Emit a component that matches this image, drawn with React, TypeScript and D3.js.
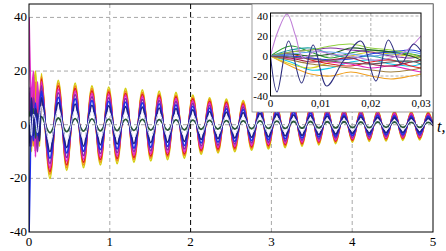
import React from 'react';
import * as d3 from 'd3';

// main plot: time of each extremum (s)
const mainTimes = [0, 0.012, 0.03, 0.055, 0.08, 0.105, 0.13,
    0.155, 0.259, 0.363, 0.467, 0.571, 0.675, 0.779, 0.883, 0.987, 1.091, 1.195, 1.299, 1.403, 1.507, 1.611, 1.715,
    1.819, 1.923, 2.027, 2.131, 2.235, 2.339, 2.443, 2.547, 2.651, 2.755, 2.859, 2.963, 3.067, 3.171, 3.275, 3.379,
    3.483, 3.587, 3.691, 3.795, 3.899, 4.003, 4.107, 4.211, 4.315, 4.419, 4.523, 4.627, 4.731, 4.835, 4.939, 5.0];

const yellowVals = [0, 6, -10, 12, 20, 4, -8,
    19, -20, 16.5, -17, 15.5, -16, 14.5, -15, 14, -14.5, 13.5, -14, 13, -13.5, 12.5, -13, 12, -12.5, 11, -11, 10, -10.5,
    9.5, -10, 9, -9.5, 8.5, -9, 8, -8.5, 7.5, -8, 7, -7.5, 6.5, -7, 6, -6.5, 5.8, -6.2, 5.5, -6, 5.2, -5.8, 5, -5.6, 4.8, -0.5];
const orangeVals = [0, -5, 14, -8, 16, -4, 6,
    18, -18.5, 15.5, -16, 14.5, -15, 13.5, -14, 13, -13.5, 12.5, -13, 12, -12.5, 11.5, -12, 11, -11.5, 10.3, -10.2, 9.4, -9.8,
    8.8, -9.3, 8.4, -8.8, 7.9, -8.4, 7.4, -7.9, 7, -7.4, 6.5, -7, 6, -6.5, 5.6, -6, 5.4, -5.8, 5.1, -5.6, 4.8, -5.4, 4.6, -5.2, 4.4, -0.4];
const redVals = [0, 10, -6, 18, -10, 12, -4,
    17, -17.5, 14.5, -15, 13.5, -14, 12.6, -13, 12.2, -12.6, 11.7, -12.2, 11.3, -11.7, 10.9, -11.3, 10.4, -10.9, 9.6, -9.6, 8.7, -9.1,
    8.3, -8.7, 7.8, -8.3, 7.4, -7.8, 7, -7.4, 6.5, -7, 6.1, -6.5, 5.7, -6.1, 5.2, -5.7, 5, -5.4, 4.8, -5.2, 4.5, -5, 4.3, -4.9, 4.2, -0.4];
const magentaVals = [40, 22, 8, 20, -12, 16, 2,
    16, -16, 13.2, -13.6, 12.4, -12.8, 11.6, -12, 11.2, -11.6, 10.8, -11.2, 10.4, -10.8, 10, -10.4, 9.6, -10, 8.8, -8.8, 8, -8.4,
    7.6, -8, 7.2, -7.6, 6.8, -7.2, 6.4, -6.8, 6, -6.4, 5.6, -6, 5.2, -5.6, 4.8, -5.2, 4.6, -5, 4.4, -4.8, 4.2, -4.6, 4, -4.5, 3.8, -0.3];
const purpleVals = [0, 14, -8, 10, 4, -10, 8,
    14.5, -14.5, 11.9, -12.2, 11.2, -11.5, 10.4, -10.8, 10, -10.4, 9.7, -10, 9.4, -9.7, 9, -9.4, 8.6, -9, 7.9, -7.9, 7.2, -7.6,
    6.8, -7.2, 6.5, -6.8, 6.1, -6.5, 5.8, -6.1, 5.4, -5.8, 5, -5.4, 4.7, -5, 4.3, -4.7, 4.2, -4.5, 4, -4.3, 3.7, -4.2, 3.6, -4, 3.5, -0.3];
const greenVals = [0, 5, -4, 6, -5, 4, -3,
    3, -3, 2.5, -2.6, 2.3, -2.4, 2.2, -2.3, 2.1, -2.2, 2, -2.1, 2, -2, 1.9, -2, 1.8, -1.9, 1.7, -1.7, 1.6, -1.6,
    1.5, -1.6, 1.4, -1.5, 1.4, -1.4, 1.3, -1.4, 1.2, -1.3, 1.2, -1.2, 1.1, -1.2, 1.1, -1.1, 1, -1.1, 1, -1, 1, -1, 0.9, -1, 0.9, 0];
const blueVals = [-40, -20, 6, -6, 8, -4, 4,
    12.5, -12.5, 10.2, -10.5, 9.6, -9.9, 9, -9.3, 8.7, -9, 8.4, -8.7, 8.1, -8.4, 7.8, -8.1, 7.4, -7.8, 6.8, -6.8, 6.2, -6.5,
    5.9, -6.2, 5.6, -5.9, 5.3, -5.6, 5, -5.3, 4.6, -5, 4.3, -4.6, 4, -4.3, 3.7, -4, 3.6, -3.8, 3.4, -3.7, 3.2, -3.6, 3.1, -3.5, 3, -0.2];
const navyVals = [0, -8, 10, -4, 6, 2, -6,
    10, -10, 8.2, -8.5, 7.7, -8, 7.2, -7.5, 7, -7.2, 6.7, -7, 6.5, -6.7, 6.2, -6.5, 6, -6.2, 5.5, -5.5, 5, -5.2,
    4.7, -5, 4.5, -4.7, 4.2, -4.5, 4, -4.2, 3.7, -4, 3.5, -3.7, 3.2, -3.5, 3, -3.2, 2.9, -3.1, 2.7, -3, 2.6, -2.9, 2.5, -2.8, 2.4, -0.2];
const whiteVals = [0, 3, -4, 4, 2, -3, 3,
    7, -7, 5.8, -6, 5.4, -5.6, 5, -5.2, 4.9, -5, 4.7, -4.9, 4.5, -4.7, 4.4, -4.5, 4.2, -4.4, 3.8, -3.8, 3.5, -3.7,
    3.3, -3.5, 3.1, -3.3, 3, -3.1, 2.8, -3, 2.6, -2.8, 2.4, -2.6, 2.3, -2.4, 2.1, -2.3, 2, -2.2, 1.9, -2.1, 1.8, -2, 1.8, -1.9, 1.7, -0.1];

const mainXTicks = [0, 1, 2, 3, 4, 5];
const mainYTicks = [-40, -20, 0, 20, 40];

// inset: first 0.03 s
const insetOscTimes = [0, 0.0013, 0.0036, 0.0062, 0.0085, 0.0112, 0.0145, 0.018, 0.021, 0.0235, 0.026, 0.0285, 0.03];
const insetNavyVals = [0, -36, 15, -27, 11, -30, -5, 15, -25, 16, -8, 12, 5];
const insetBigTimes = [0, 0.0015, 0.0033, 0.005, 0.0065, 0.009, 0.012, 0.016, 0.02, 0.024, 0.027, 0.03];
const insetLilacVals = [0, 25, 42, 20, -2, 5, 2, 0, -4, -2, 5, 20];
const insetTimes = [0, 0.004, 0.008, 0.012, 0.016, 0.02, 0.024, 0.028, 0.03];
const insetGreen = [0, 10, 4, -2, 3, 6, 4, 2, 0];
const insetTeal = [0, 6, 8, 2, -2, 0, -4, -6, -5];
const insetCyan = [0, -6, -14, -12, -6, -4, -8, -10, -8];
const insetOrange = [0, -10, -18, -20, -16, -20, -23, -20, -18];
const insetYellow = [0, -8, -12, -6, 0, 4, 2, 0, -2];
const insetRed = [0, 2, -4, -8, -10, -6, -4, -10, -12];
const insetMagenta = [0, -3, -2, -6, -8, -12, -10, -14, -16];
const insetPurple = [0, 4, 6, 8, 6, 4, 0, -2, 0];
const insetBlue = [0, 0, -2, -4, -3, 2, 4, 6, 4];
const insetDarkGreen = [0, 2, 0, 2, 8, 6, 4, 0, -4];
const insetLightGreen = [0, 4, 6, 10, 12, 8, 6, 2, -2];
const insetOlive = [0, -4, -8, -10, -12, -14, -16, -14, -12];
const insetDarkRed = [0, -2, -6, -4, -2, -8, -10, -6, -4];
const insetSky = [0, 2, 4, 4, 2, 0, 2, 4, 2];
const insetGray = [0, -1, -3, -5, -7, -8, -6, -5, -8];

const insetXTicks = [0, 0.01, 0.02, 0.03];
const insetXLabels = ['0', '0,01', '0,02', '0,03'];
const insetYTicks = [-40, -20, 0, 20, 40];

function App() {
    const W = 446, H = 251;
    const x = d3.scaleLinear().domain([0, 5]).range([29, 433]);
    const y = d3.scaleLinear().domain([-40, 45]).range([232, 4]);
    const ix = d3.scaleLinear().domain([0, 0.03]).range([270.5, 421]);
    const iy = d3.scaleLinear().domain([-40, 43]).range([96, 13]);

    const mainSeries = [
        { color: '#d4cf10', values: yellowVals },
        { color: '#f09018', values: orangeVals },
        { color: '#e0202a', values: redVals },
        { color: '#e02cc8', values: magentaVals },
        { color: '#8a2aa8', values: purpleVals },
        { color: '#2a5a3a', values: greenVals },
        { color: '#2030e8', values: blueVals },
        { color: '#20208a', values: navyVals },
        { color: '#eeeeff', values: whiteVals },
    ];
    const line = d3.line<[number, number]>().x(d => x(d[0])).y(d => y(d[1])).curve(d3.curveCatmullRom.alpha(0.5));
    const iline = d3.line<[number, number]>().x(d => ix(d[0])).y(d => iy(d[1])).curve(d3.curveCatmullRom.alpha(0.5));

    const insetSeries = [
        { color: '#30a030', t: insetTimes, values: insetGreen },
        { color: '#20a0a0', t: insetTimes, values: insetTeal },
        { color: '#10c8e8', t: insetTimes, values: insetCyan },
        { color: '#f0a020', t: insetTimes, values: insetOrange },
        { color: '#d8d020', t: insetTimes, values: insetYellow },
        { color: '#e02020', t: insetTimes, values: insetRed },
        { color: '#e020c0', t: insetTimes, values: insetMagenta },
        { color: '#8030a0', t: insetTimes, values: insetPurple },
        { color: '#2040e0', t: insetTimes, values: insetBlue },
        { color: '#206020', t: insetTimes, values: insetDarkGreen },
        { color: '#90d040', t: insetTimes, values: insetLightGreen },
        { color: '#a08040', t: insetTimes, values: insetOlive },
        { color: '#a02040', t: insetTimes, values: insetDarkRed },
        { color: '#60a0f0', t: insetTimes, values: insetSky },
        { color: '#606060', t: insetTimes, values: insetGray },
        { color: '#c080d8', t: insetBigTimes, values: insetLilacVals },
        { color: '#303080', t: insetOscTimes, values: insetNavyVals },
    ];

    const font = '"Liberation Serif", "Times New Roman", serif';
    return (
        <svg width={W} height={H} style={{ position: 'absolute', left: 0, top: 0, background: '#fff' }}>
            <defs>
                <clipPath id="mainClip"><rect x={29} y={4} width={404} height={228} /></clipPath>
                <clipPath id="insetClip"><rect x={270.5} y={13} width={150.5} height={83} /></clipPath>
            </defs>
            {/* grid */}
            {mainYTicks.filter(v => v !== -40).map(v => (
                <line key={'gy' + v} x1={29} x2={433} y1={y(v)} y2={y(v)} stroke="#a8a8a8" strokeDasharray="4,3" />
            ))}
            {mainXTicks.filter(v => v > 0 && v < 5).map(v => (
                <line key={'gx' + v} x1={x(v)} x2={x(v)} y1={4} y2={232}
                    stroke={v === 2 ? '#000' : '#a8a8a8'} strokeDasharray={v === 2 ? '5,3' : '4,3'} />
            ))}
            <g clipPath="url(#mainClip)">
                {mainSeries.map((s, i) => (
                    <path key={i} d={line(mainTimes.map((t, j) => [t, s.values[j]]))!} fill="none"
                        stroke={s.color} strokeWidth={i === 8 ? 1 : 1.8} />
                ))}
            </g>
            <rect x={29} y={4} width={404} height={228} fill="none" stroke="#000" strokeWidth={1} />
            {mainYTicks.map(v => (
                <text key={'yl' + v} x={27} y={y(v) + 4} textAnchor="end" fontFamily={font} fontSize={13}>{v}</text>
            ))}
            {mainXTicks.map(v => (
                <text key={'xl' + v} x={x(v)} y={246} textAnchor="middle" fontFamily={font} fontSize={13}>{v}</text>
            ))}
            <text x={437} y={132} fontFamily={font} fontStyle="italic" fontSize={16}>t,</text>

            {/* inset */}
            <rect x={252} y={4} width={181} height={108} fill="#fff" stroke="#888" strokeWidth={0.8} />
            {insetYTicks.filter(v => v !== -40).map(v => (
                <line key={'igy' + v} x1={270.5} x2={421} y1={iy(v)} y2={iy(v)} stroke="#b0b0b0" strokeDasharray="3,2" />
            ))}
            {insetXTicks.filter(v => v > 0 && v < 0.03).map(v => (
                <line key={'igx' + v} x1={ix(v)} x2={ix(v)} y1={13} y2={96} stroke="#b0b0b0" strokeDasharray="3,2" />
            ))}
            <g clipPath="url(#insetClip)">
                {insetSeries.map((s, i) => (
                    <path key={i} d={iline(s.t.map((t, j) => [t, s.values[j]]))!} fill="none"
                        stroke={s.color} strokeWidth={1.1} />
                ))}
            </g>
            <rect x={270.5} y={13} width={150.5} height={83} fill="none" stroke="#000" strokeWidth={1} />
            {insetYTicks.map(v => (
                <text key={'iyl' + v} x={268} y={iy(v) + 4} textAnchor="end" fontFamily={font} fontSize={11}>{v}</text>
            ))}
            {insetXTicks.map((v, i) => (
                <text key={'ixl' + v} x={ix(v)} y={107} textAnchor="middle" fontFamily={font} fontSize={11}>{insetXLabels[i]}</text>
            ))}
        </svg>
    );
}

export default App;
